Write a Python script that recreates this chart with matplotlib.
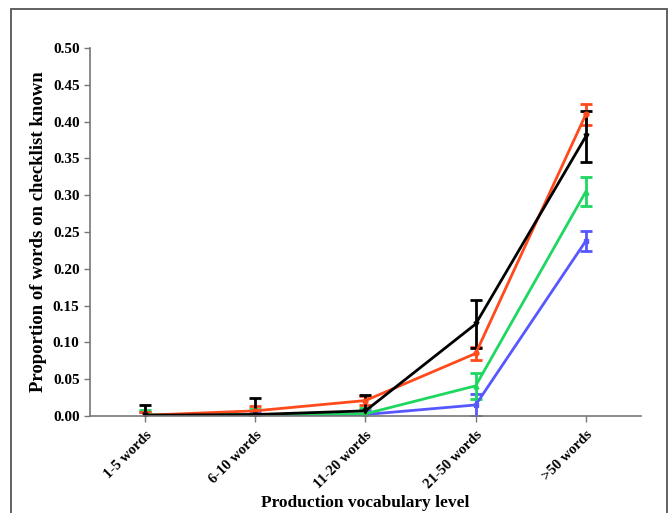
import matplotlib.pyplot as plt
from matplotlib.patches import Rectangle
import numpy as np

levels = ["1-5 words", "6-10 words", "11-20 words", "21-50 words", ">50 words"]

red_mean = [0.001, 0.007, 0.021, 0.085, 0.410]
red_err = [0.004, 0.006, 0.006, 0.009, 0.014]

black_mean = [0.001, 0.002, 0.007, 0.125, 0.380]
black_err = [0.014, 0.023, 0.021, 0.033, 0.035]

green_mean = [0.002, 0.002, 0.003, 0.041, 0.305]
green_err = [0.006, 0.008, 0.008, 0.018, 0.020]

blue_mean = [0.001, 0.001, 0.002, 0.015, 0.238]
blue_err = [0.004, 0.004, 0.006, 0.015, 0.014]

plt.rcParams.update({
    'font.family': 'Liberation Serif',
    'font.weight': 'bold',
})

fig = plt.figure(figsize=(6.7, 5.13), dpi=100)
ax = fig.add_axes([0.1343, 0.1891, 0.8224, 0.7173])

# outer frame around the whole chart
fig.patches.append(Rectangle((11 / 670, -0.05), 656 / 670, 1.05 - 9 / 513,
                             transform=fig.transFigure, fill=False,
                             edgecolor='#555555', linewidth=1.3))

x = np.arange(len(levels))
series = [
    (blue_mean, blue_err, '#5757FF', 's'),
    (green_mean, green_err, '#1ED760', '^'),
    (red_mean, red_err, '#FF4A1C', 'o'),
    (black_mean, black_err, 'black', 'v'),
]
for mean, err, color, marker in series:
    ax.errorbar(x, mean, yerr=err, color=color, marker=marker, markersize=3.5,
                linewidth=2.0, elinewidth=2.0, capsize=4.5, capthick=2.0)

ax.set_xlim(-0.5, 4.5)
ax.set_ylim(0, 0.5)
ax.set_yticks(np.arange(0, 0.501, 0.05))
ax.set_yticklabels([f"{v:.2f}" for v in np.arange(0, 0.501, 0.05)])
ax.set_xticks(x)
ax.set_xticklabels(levels, rotation=45, ha='right', rotation_mode='anchor')

for side in ['top', 'right']:
    ax.spines[side].set_visible(False)
for side in ['left', 'bottom']:
    ax.spines[side].set_color('#777777')
    ax.spines[side].set_linewidth(1.2)
ax.tick_params(direction='out', length=4, width=1.0, color='#777777',
               labelsize=11)
ax.tick_params(axis='x', labelsize=10.5, pad=5)
for lbl in ax.get_xticklabels() + ax.get_yticklabels():
    lbl.set_fontweight('bold')

ax.set_ylabel('Proportion of words on checklist known', fontsize=13.5,
              fontweight='bold', va='center')
ax.yaxis.set_label_coords(-0.0926, 0.5)
ax.set_xlabel('Production vocabulary level', fontsize=12.5, fontweight='bold',
              va='center')
ax.xaxis.set_label_coords(0.5, -0.236)

fig.savefig('out.png', dpi=100)
